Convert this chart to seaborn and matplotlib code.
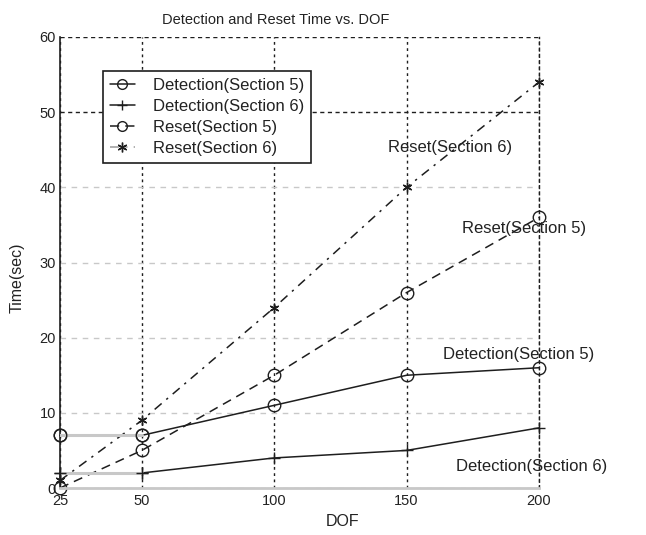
import numpy as np
import pandas as pd
import matplotlib
matplotlib.use("Agg")
import matplotlib.pyplot as plt
import seaborn as sns

# ---- data ----
dof = [25, 50, 100, 150, 200]
det_s5 = [7, 7, 11, 15, 16]
det_s6 = [2, 2, 4, 5, 8]
reset_s5 = [0, 5, 15, 26, 36]
reset_s6 = [1, 9, 24, 40, 54]
x_ticks = [25, 50, 100, 150, 200]
y_ticks = [0, 10, 20, 30, 40, 50, 60]
title = "Detection and Reset Time vs. DOF"
xlabel = "DOF"
ylabel = "Time(sec)"
labels = ["Detection(Section 5)", "Detection(Section 6)",
          "Reset(Section 5)", "Reset(Section 6)"]

sns.set_style("white")
plt.rcParams['font.family'] = ['Liberation Sans', 'DejaVu Sans']
TXT = "#222222"
DARK = "#1e1e1e"
LGRAY = "#c8c8c8"

fig = plt.figure(figsize=(6.46, 5.35), dpi=100)
ax = fig.add_axes([60/646, 47/535, 479/646, 451/535])

ast = (6, 2, 0)
common = dict(ax=ax, color=DARK, linewidth=1.1,
              markerfacecolor="none", markeredgecolor=DARK, markeredgewidth=1.0,
              clip_on=False)

sns.lineplot(x=dof, y=det_s5, marker="o", markersize=9, linestyle="-", label=labels[0], zorder=2, **common)
sns.lineplot(x=dof, y=det_s6, marker="+", markersize=8, linestyle="-", label=labels[1], zorder=2, **common)
sns.lineplot(x=dof, y=reset_s5, marker="o", markersize=9, linestyle=(0, (6, 4)), label=labels[2], zorder=2, **common)
sns.lineplot(x=dof, y=reset_s6, marker=ast, markersize=7, linestyle=(0, (6, 4, 1.5, 4)), label=labels[3], zorder=2, **common)

# light-gray first segments of the detection curves
for vals, mk, ms in ((det_s5, "o", 9), (det_s6, "+", 8)):
    sns.lineplot(x=dof[:2], y=vals[:2], ax=ax, color=LGRAY, linewidth=2.2, zorder=3, legend=False)
    ax.plot(dof[:2], vals[:2], linestyle="none", marker=mk, markersize=ms,
            markerfacecolor="none", markeredgecolor=DARK, markeredgewidth=1.0, zorder=4,
            clip_on=False)

# non-linear x axis (25 is stretched relative to the rest)
def fwd(x):
    x = np.asarray(x, dtype=float)
    return np.where(x < 50, 50 - (50 - x) * 1.236, x)

def inv(x):
    x = np.asarray(x, dtype=float)
    return np.where(x < 50, 50 - (50 - x) / 1.236, x)

ax.set_xscale("function", functions=(fwd, inv))
ax.set_xlim(25, 200)
ax.set_ylim(0, 60)
ax.set_xticks(x_ticks)
ax.set_xticklabels([str(v) for v in x_ticks])
ax.set_yticks(y_ticks)
ax.set_yticklabels([str(v) for v in y_ticks])
ax.minorticks_off()

ax.tick_params(axis="both", labelsize=10.5, colors=TXT, length=0, pad=3)
ax.tick_params(axis="x", pad=4)

# grid
ax.grid(True, axis="y", color=LGRAY, linestyle=(0, (4, 4)), linewidth=1.0)
ax.grid(True, axis="x", color=DARK, linestyle=(0, (2, 2.5)), linewidth=1.0)
for yv, gl in zip(y_ticks, ax.get_ygridlines()):
    if yv >= 50:
        gl.set_color(DARK)
        gl.set_linestyle((0, (3, 2.5)))
ax.set_axisbelow(True)

ax.spines["top"].set_visible(False)
ax.spines["right"].set_color(DARK)
ax.spines["right"].set_linestyle((0, (2, 2.5)))
ax.spines["right"].set_linewidth(1.0)
ax.spines["left"].set_color(DARK)
ax.spines["left"].set_linewidth(1.2)
ax.spines["bottom"].set_color(LGRAY)
ax.spines["bottom"].set_linewidth(2.0)

ax.set_title(title, fontsize=10.5, color=TXT, pad=9, x=0.451)
ax.set_xlabel(xlabel, fontsize=11.5, color=TXT)
ax.set_ylabel(ylabel, fontsize=11.5, color=TXT)
ax.xaxis.set_label_coords(0.59, -0.058)
ax.yaxis.set_label_coords(-0.073, 0.466)

leg = ax.legend(loc="upper left", bbox_to_anchor=(0.09, 0.924), fontsize=12,
                frameon=True, fancybox=False, handlelength=1.5, labelspacing=0.36,
                borderpad=0.4, handletextpad=1.1, borderaxespad=0)
leg.get_frame().set_edgecolor(DARK)
leg.get_frame().set_linewidth(1.2)
leg.get_frame().set_alpha(1)
for t in leg.get_texts():
    t.set_color(TXT)
lh = leg.legend_handles
for h in lh:
    h.set_markersize(7)
lh[3].set_color("#9a9a9a")
lh[3].set_markeredgecolor(DARK)

# in-plot annotations
kw = dict(transform=ax.transAxes, fontsize=12, color=TXT, va="center", ha="left")
ax.text(0.685, 0.754, labels[3], **kw)
ax.text(0.839, 0.576, labels[2], **kw)
ax.text(0.800, 0.295, labels[0], **kw)
ax.text(0.827, 0.047, labels[1], **kw)

fig.savefig("out.png", dpi=100)
